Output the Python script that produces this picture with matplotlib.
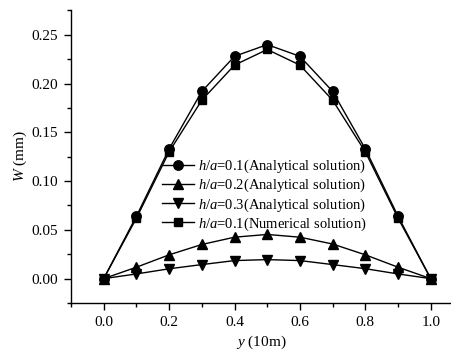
import matplotlib
matplotlib.use("Agg")
import matplotlib.pyplot as plt
from matplotlib.ticker import MultipleLocator

plt.rcParams['font.family'] = ['Liberation Serif', 'DejaVu Serif']
plt.rcParams['mathtext.fontset'] = 'custom'
plt.rcParams['mathtext.rm'] = 'Liberation Serif'
plt.rcParams['mathtext.it'] = 'Liberation Serif:italic'

y = [0.0, 0.1, 0.2, 0.3, 0.4, 0.5, 0.6, 0.7, 0.8, 0.9, 1.0]
w_01_analytical = [0.0, 0.064, 0.133, 0.192, 0.228, 0.240, 0.228, 0.192, 0.133, 0.064, 0.0]
w_02_analytical = [0.0, 0.0117, 0.0244, 0.035, 0.0425, 0.0453, 0.0425, 0.0355, 0.0244, 0.0117, 0.0]
w_03_analytical = [0.0, 0.0048, 0.0101, 0.0144, 0.0185, 0.0195, 0.0185, 0.0144, 0.0102, 0.0048, 0.0]
w_01_numerical = [0.0, 0.062, 0.130, 0.183, 0.219, 0.235, 0.219, 0.183, 0.130, 0.062, 0.0]

labels = ["$h/a$=0.1(Analytical solution)",
          "$h/a$=0.2(Analytical solution)",
          "$h/a$=0.3(Analytical solution)",
          "$h/a$=0.1(Numerical solution)"]

fig = plt.figure(figsize=(4.52, 3.5), dpi=100)
ax = fig.add_axes([71/452, 1-303/350, 1-71/452, (303-10)/350])

series = [w_01_analytical, w_02_analytical, w_03_analytical, w_01_numerical]
markers = ['o', '^', 'v', 's']
sizes = [6.8, 6.8, 6.8, 5.8]
for s, m, ms, lab in zip(series, markers, sizes, labels):
    ax.plot(y, s, color='black', lw=1.0, marker=m, markersize=ms, label=lab)

ax.set_xlim(-0.1, 1.065)
ax.set_ylim(-0.025, 0.2755)
ax.xaxis.set_major_locator(MultipleLocator(0.2))
ax.xaxis.set_minor_locator(MultipleLocator(0.1))
ax.yaxis.set_major_locator(MultipleLocator(0.05))
ax.yaxis.set_minor_locator(MultipleLocator(0.025))
ax.xaxis.set_major_formatter(matplotlib.ticker.FormatStrFormatter('%.1f'))
ax.yaxis.set_major_formatter(matplotlib.ticker.FormatStrFormatter('%.2f'))

ax.spines['top'].set_visible(False)
ax.spines['right'].set_visible(False)
for sp in ('left', 'bottom'):
    ax.spines[sp].set_linewidth(1.0)
ax.tick_params(which='major', direction='out', length=5, width=1.0, labelsize=11, pad=4)
ax.tick_params(which='minor', direction='out', length=3, width=1.0)

ax.set_xlabel("$y$ (10m)", fontsize=11)
ax.set_ylabel("$W$ (mm)", fontsize=11)
ax.xaxis.set_label_coords(0.5, 1-(342-10)/293 + 0.0, transform=ax.transAxes)
ax.xaxis.label.set_va('center')
ax.yaxis.set_label_coords((20-71)/381, 0.5, transform=ax.transAxes)
ax.yaxis.label.set_va('center')

ax.legend(loc='upper left', bbox_to_anchor=(162/452, 1-158/350), bbox_transform=fig.transFigure,
          frameon=False, fontsize=10.5, handlelength=2.2, handletextpad=0.25,
          labelspacing=0.12, borderpad=0, borderaxespad=0)

fig.savefig("out.png", dpi=100)
